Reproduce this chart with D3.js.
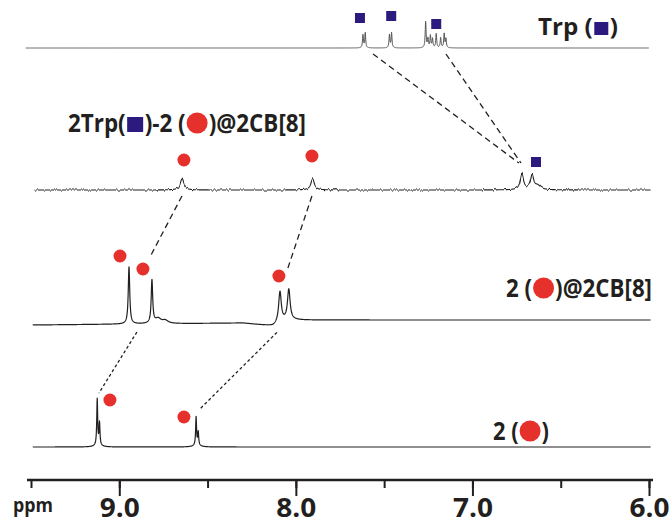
<!DOCTYPE html>
<html>
<head>
  <meta charset="utf-8">
  <title>1H NMR stack</title>
  <script src="https://d3js.org/d3.v7.min.js"></script>
  <style>
    body { margin: 0; background: #fff; }
    svg { display: block; }
    text { font-family: "Open Sans", "Liberation Sans", sans-serif; font-weight: 700; fill: #231f20; }
    .trace { fill: none; stroke: #231f20; stroke-width: 1.2; stroke-linejoin: round; }
    .link { fill: none; stroke: #231f20; stroke-width: 1.3; }
    .axis path, .axis line { stroke: #231f20; }
  </style>
</head>
<body>
<script>
// ppm window and ticks
var ppmRange = [9.5, 6.0];
var majorTicks = [9.0, 8.0, 7.0, 6.0];
var minorTicks = [9.5, 9.0, 8.5, 8.0, 7.5, 7.0, 6.5, 6.0];

// peaks: [ppm, height, half width in ppm]
var trpPeaks = [
  [7.620, 13, 0.003], [7.607, 15, 0.003],
  [7.470, 13, 0.003], [7.458, 15, 0.003],
  [7.265, 26, 0.003], [7.252, 9, 0.003],
  [7.238, 12, 0.003], [7.226, 9, 0.003],
  [7.205, 14, 0.003], [7.180, 10, 0.003],
  [7.160, 14, 0.003], [7.150, 9, 0.003]
];
var mixPeaks = [
  [8.645, 11, 0.012], [7.905, 11, 0.012],
  [6.720, 16, 0.011], [6.662, 14, 0.011], [6.630, 4, 0.02]
];
var cbPeaks = [
  [8.945, 57, 0.005], [8.815, 43, 0.005],
  [8.780, 5, 0.02], [8.740, 3, 0.02],
  [8.090, 31, 0.009], [8.040, 31, 0.009]
];
var freePeaks = [
  [9.125, 46, 0.003], [9.112, 22, 0.003], [9.120, 2, 0.02],
  [8.565, 28, 0.003], [8.553, 13, 0.003], [8.560, 2, 0.02]
];
// slow baseline drift of the 2@2CB[8] trace: [ppm, level]
var cbDrift = [[9.5, -5], [8.9, -4], [8.3, -3], [8.13, -6], [8.06, -1], [8.0, 0], [6.0, 0]];

// ppm extent of each trace
var traceRanges = { trp: [9.53, 6.0], mix: [9.48, 5.99], cb: [9.49, 5.99], free: [9.49, 5.99] };

// markers: [trace, ppm, level above baseline]
var squareMarks = [['trp', 7.637, 30], ['trp', 7.460, 32], ['trp', 7.205, 24], ['mix', 6.640, 28]];
var circleMarks = [
  ['mix', 8.634, 30], ['mix', 7.909, 34],
  ['cb', 8.996, 64], ['cb', 8.866, 51], ['cb', 8.096, 44],
  ['free', 9.053, 47], ['free', 8.634, 30]
];

// dashed links: [from trace, ppm, to trace, ppm, level at the end]
var links = [
  ['trp', 7.563, 'mix', 6.737, 27],
  ['trp', 7.150, 'mix', 6.725, 27],
  ['mix', 8.645, 'cb', 8.826, 63],
  ['mix', 7.909, 'cb', 8.045, 52],
  ['cb', 8.900, 'free', 9.115, 54],
  ['cb', 8.107, 'free', 8.549, 37]
];

// labels: text pieces and marker names
var trpLabel = ['Trp (', 'square', ')'];
var mixLabel = ['2Trp(', 'square', ')-2 (', 'circle', ')@2CB[8]'];
var cbLabel = ['2 (', 'circle', ')@2CB[8]'];
var freeLabel = ['2 (', 'circle', ')'];

var RED = '#e6302b';
var BLUE = '#2c1a7f';

var W = 670, H = 525;
var svg = d3.select('body').append('svg').attr('width', W).attr('height', H);

// noise texture for the mixture trace
var filt = svg.append('defs').append('filter')
  .attr('id', 'noisy').attr('x', '-2%').attr('y', '-60%').attr('width', '104%').attr('height', '220%');
filt.append('feTurbulence').attr('type', 'fractalNoise').attr('baseFrequency', '0.5 0.004')
  .attr('numOctaves', 2).attr('seed', 7).attr('result', 'n');
filt.append('feColorMatrix').attr('in', 'n').attr('type', 'matrix')
  .attr('values', '0 0 0 0 0.5  0 1 0 0 0  0 0 1 0 0  0 0 0 0 1').attr('result', 'm');
filt.append('feDisplacementMap').attr('in', 'SourceGraphic').attr('in2', 'm')
  .attr('scale', 3.6).attr('xChannelSelector', 'R').attr('yChannelSelector', 'G');

var x = d3.scaleLinear().domain(ppmRange).range([31, 649]);
var amp = d3.scaleLinear().domain([0, 100]).range([0, -100]);
var base = { trp: 48, mix: 190, cb: 320, free: 447 };
var drift = {
  trp: function() { return 0; },
  mix: function() { return 0; },
  cb: d3.scaleLinear().domain(cbDrift.map(function(d) { return d[0]; })).range(cbDrift.map(function(d) { return d[1]; })),
  free: function() { return 0; }
};
var peaks = { trp: trpPeaks, mix: mixPeaks, cb: cbPeaks, free: freePeaks };

function level(key, p) {
  var v = drift[key](p);
  peaks[key].forEach(function(k) {
    var g2 = k[2] * k[2];
    v += k[1] * g2 / ((p - k[0]) * (p - k[0]) + g2);
  });
  return v;
}
function yOf(key, v) { return base[key] + amp(v); }

var line = d3.line();
['trp', 'mix', 'cb', 'free'].forEach(function(key) {
  var r = traceRanges[key];
  var pts = d3.range(r[0], r[1], -0.001).map(function(p) {
    return [x(p), yOf(key, level(key, p))];
  });
  var path = svg.append('path').attr('class', 'trace').attr('d', line(pts));
  if (key === 'trp') path.style('stroke', '#555').style('stroke-width', 1);
  if (key === 'mix') path.attr('filter', 'url(#noisy)').style('stroke-width', 1.1);
});

// dashed connectors
svg.append('g').selectAll('line').data(links).join('line')
  .attr('class', 'link')
  .attr('x1', function(d) { return x(d[1]); })
  .attr('y1', function(d) { return yOf(d[0], drift[d[0]](d[1])) + (d[0] === 'cb' ? 8 : 6); })
  .attr('x2', function(d) { return x(d[3]); })
  .attr('y2', function(d) { return yOf(d[2], d[4]); })
  .attr('stroke-dasharray', function(d) { return d[2] === 'free' ? '3,2.5' : '6,4'; });

// peak markers
svg.append('g').selectAll('rect').data(squareMarks).join('rect')
  .attr('x', function(d) { return x(d[1]) - 5; })
  .attr('y', function(d) { return yOf(d[0], d[2]) - 5; })
  .attr('width', 10).attr('height', 10).attr('fill', BLUE);
svg.append('g').selectAll('circle').data(circleMarks).join('circle')
  .attr('cx', function(d) { return x(d[1]); })
  .attr('cy', function(d) { return yOf(d[0], d[2]); })
  .attr('r', 6.5).attr('fill', RED);

// labels with inline markers, squeezed to the width seen in the figure
function label(segs, left, right, baseline, size, sq) {
  var g = svg.append('g');
  var items = segs.map(function(s) {
    if (s === 'square') return { w: sq + 3, s: s };
    if (s === 'circle') return { w: 23, s: s };
    var t = g.append('text').attr('font-size', size).attr('y', baseline).text(s);
    return { w: t.node().getComputedTextLength(), s: s, t: t };
  });
  var fixed = d3.sum(items, function(d) { return d.t ? 0 : d.w; });
  var natural = d3.sum(items, function(d) { return d.t ? d.w : 0; });
  var k = (right - left - fixed) / natural;
  var cx = left;
  items.forEach(function(d) {
    if (d.t) {
      d.t.attr('x', cx).attr('textLength', d.w * k).attr('lengthAdjust', 'spacingAndGlyphs');
      cx += d.w * k;
    } else if (d.s === 'square') {
      g.append('rect').attr('x', cx + 1.5).attr('y', baseline - sq + 1).attr('width', sq).attr('height', sq - 1)
        .attr('fill', BLUE);
      cx += d.w;
    } else {
      g.append('circle').attr('cx', cx + 11.5).attr('cy', baseline - 9).attr('r', 10.5).attr('fill', RED);
      cx += d.w;
    }
  });
}
label(trpLabel, 538, 618, 35, 24, 14);
label(mixLabel, 68, 306, 132, 25, 16);
label(cbLabel, 506, 652, 297, 25, 16);
label(freeLabel, 493, 549, 440, 25, 16);

// ppm axis
var AXIS_Y = 480;
var minorAxis = svg.append('g').attr('class', 'axis').attr('transform', 'translate(0,' + AXIS_Y + ')')
  .call(d3.axisBottom(x).tickValues(minorTicks).tickSize(8).tickSizeOuter(0).tickFormat(''));
minorAxis.select('.domain').attr('d', 'M27,0H653').style('stroke-width', 2.5);
minorAxis.selectAll('line').style('stroke-width', 2);

var majorAxis = svg.append('g').attr('class', 'axis').attr('transform', 'translate(0,' + AXIS_Y + ')')
  .call(d3.axisBottom(x).tickValues(majorTicks).tickSize(16).tickSizeOuter(0)
    .tickFormat(d3.format('.1f')));
majorAxis.select('.domain').remove();
majorAxis.attr('font-size', null).attr('font-family', null);
majorAxis.selectAll('line').style('stroke-width', 2);
// baseline of the tick labels sits at 517 so the glyph box stays inside the page
majorAxis.selectAll('text').attr('font-size', 27).attr('fill', '#231f20')
  .attr('y', 37).attr('dy', null)
  .attr('textLength', 40).attr('lengthAdjust', 'spacingAndGlyphs');

svg.append('text').attr('x', 13).attr('y', 512).attr('font-size', 19)
  .attr('textLength', 40).attr('lengthAdjust', 'spacingAndGlyphs').text('ppm');
</script>
</body>
</html>
